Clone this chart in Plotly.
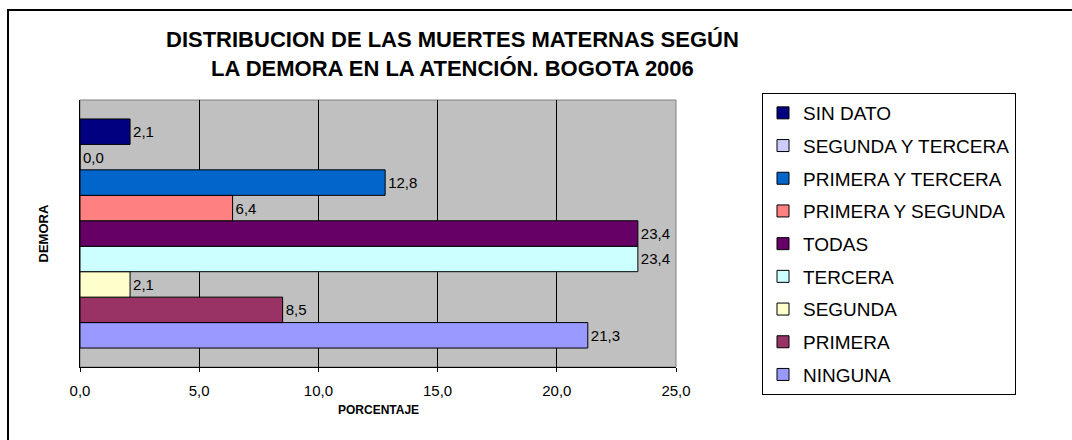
import plotly.graph_objects as go

# Series (bottom to top as drawn)
series_names = ["NINGUNA", "PRIMERA", "SEGUNDA", "TERCERA", "TODAS",
                "PRIMERA Y SEGUNDA", "PRIMERA Y TERCERA", "SEGUNDA Y TERCERA", "SIN DATO"]
series_values = [21.3, 8.5, 2.1, 23.4, 23.4, 6.4, 12.8, 0.0, 2.1]
series_colors = ["#9999FF", "#993366", "#FFFFCC", "#CCFFFF", "#660066",
                 "#FF8080", "#0066CC", "#CCCCFF", "#000080"]
category = ["DEMORA"]
x_ticks = [0, 5, 10, 15, 20, 25]

FONT = "Arial, Liberation Sans, sans-serif"

fig = go.Figure()
for i, (name, val, col) in enumerate(zip(series_names, series_values, series_colors)):
    fig.add_trace(go.Bar(
        y=category, x=[val], name=name, orientation="h",
        marker=dict(color=col, line=dict(color="black", width=1)),
        texttemplate="%{x:.1f}", textposition="outside",
        textfont=dict(family=FONT, size=15, color="black"),
        cliponaxis=False, legendgroup=name, legendrank=1000 - i,
    ))

L, R, T, B = 80, 676, 100, 367
W, H = 1072, 440
pw, ph = R - L, B - T

def px(x):
    return (x - L) / pw

def py(y):
    return (B - y) / ph

fig.update_layout(
    width=W, height=H,
    margin=dict(l=L, r=W - R, t=T, b=H - B, autoexpand=False),
    paper_bgcolor="white", plot_bgcolor="#C0C0C0",
    barmode="group", bargap=0.142,
    separators=",.",
    font=dict(family=FONT, color="black"),
    showlegend=True,
    legend=dict(
        x=px(762), y=py(93), xanchor="left", yanchor="top",
        bordercolor="black", borderwidth=1, bgcolor="white",
        font=dict(family=FONT, size=19, color="black"),
        traceorder="grouped", tracegroupgap=5, maxheight=420,
    ),
    xaxis=dict(
        range=[0, 25], tickvals=x_ticks, tickformat=".1f",
        showgrid=True, gridcolor="black", gridwidth=1,
        showline=True, linecolor="black", linewidth=1,
        ticks="outside", ticklen=4, tickcolor="black",
        tickfont=dict(family=FONT, size=15, color="black"),
        ticklabelstandoff=6, zeroline=False,
    ),
    yaxis=dict(
        showticklabels=False, showgrid=False, zeroline=False,
        showline=True, linecolor="black", linewidth=1,
    ),
    shapes=[
        dict(type="rect", xref="paper", yref="paper", x0=0, x1=1, y0=0, y1=1,
             line=dict(color="#808080", width=1), layer="below"),
        dict(type="rect", xref="paper", yref="paper",
             x0=px(8), x1=px(1100), y0=py(460), y1=py(10),
             line=dict(color="black", width=2)),
    ],
    annotations=[
        dict(text="<b>DISTRIBUCION DE LAS MUERTES MATERNAS SEGÚN<br>LA DEMORA EN LA ATENCIÓN. BOGOTA 2006</b>",
             xref="paper", yref="paper", x=px(452), y=py(54.5),
             xanchor="center", yanchor="middle", showarrow=False,
             font=dict(family=FONT, size=22, color="black")),
        dict(text="<b>PORCENTAJE</b>", xref="paper", yref="paper",
             x=0.5, y=py(410), xanchor="center", yanchor="middle", showarrow=False,
             font=dict(family=FONT, size=12, color="black")),
        dict(text="<b>DEMORA</b>", xref="paper", yref="paper",
             x=px(43), y=0.5, xanchor="center", yanchor="middle", showarrow=False,
             textangle=-90, font=dict(family=FONT, size=13, color="black")),
    ],
)

fig.write_html("out.html", config={"displayModeBar": False})

# remove default page margin so the figure sits at the top-left corner
with open("out.html", encoding="utf-8") as f:
    html = f.read()
html = html.replace("<body>", '<body style="margin:0;padding:0;">', 1)
html = html.replace("<head>", '<head><style>html,body{margin:0;padding:0;}</style>', 1)
with open("out.html", "w", encoding="utf-8") as f:
    f.write(html)
